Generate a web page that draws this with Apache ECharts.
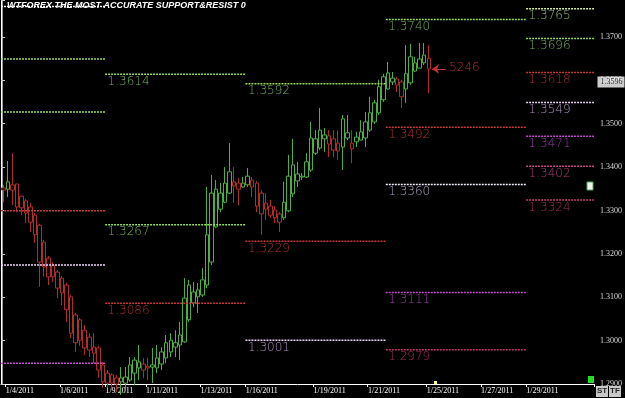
<!DOCTYPE html>
<html><head><meta charset="utf-8">
<script src="https://cdn.jsdelivr.net/npm/echarts/dist/echarts.min.js"></script>
<style>html,body{margin:0;padding:0;background:#000;}#c{width:625px;height:398px;}</style>
</head><body><div id="c"></div>
<script>
// ---- data ----
const slotCount = 131;
const tickIndex = [1, 13, 23, 32, 44, 54, 69, 81, 94, 106, 116];
const tickLabels = ['1/4/2011','1/6/2011','1/9/2011','1/11/2011','1/13/2011','1/16/2011','1/19/2011','1/21/2011','1/25/2011','1/27/2011','1/29/2011'];

const opens = [1.3352,1.3349,1.3359,1.3361,1.3333,1.3322,1.3308,1.3289,1.3266,1.3227,
1.3190,1.3174,1.3158,1.3144,1.3128,1.3101,1.3059,1.3048,1.3024,1.3008,
1.2985,1.2983,1.2944,1.2925,1.2921,1.2914,1.2905,1.2902,1.2909,1.2925,
1.2937,1.2946,1.2941,1.2939,1.2937,1.2946,1.2960,1.2974,1.2985,1.2990,
1.2997,1.3048,1.3087,1.3101,1.3105,1.3128,1.3181,1.3262,1.3303,1.3319,
1.3340,1.3366,1.3363,1.3354,1.3359,1.3370,1.3363,1.3340,1.3317,1.3310,
1.3301,1.3292,1.3283,1.3299,1.3338,1.3368,1.3377,1.3377,1.3393,1.3432,
1.3444,1.3465,1.3472,1.3465,1.3455,1.3446,1.3467,1.3455,1.3458,1.3462,
1.3467,1.3485,1.3504,1.3525,1.3555,1.3580,1.3596,1.3603,1.3596,1.3580,
1.3594,1.3621,1.3628,1.3640,1.3651];
const closes = [1.3347,1.3366,1.3347,1.3308,1.3306,1.3294,1.3273,1.3244,1.3181,1.3170,
1.3147,1.3147,1.3121,1.3110,1.3071,1.3017,1.2995,1.3001,1.2983,1.2978,
1.2971,1.2932,1.2905,1.2902,1.2902,1.2900,1.2914,1.2916,1.2944,1.2955,
1.2951,1.2932,1.2937,1.2944,1.2960,1.2974,1.2995,1.3001,1.2995,1.3013,
1.3098,1.3128,1.3112,1.3117,1.3140,1.3244,1.3340,1.3349,1.3340,1.3363,
1.3389,1.3356,1.3349,1.3363,1.3379,1.3354,1.3310,1.3292,1.3303,1.3289,
1.3283,1.3273,1.3319,1.3379,1.3405,1.3384,1.3379,1.3412,1.3467,1.3465,
1.3485,1.3474,1.3453,1.3439,1.3437,1.3511,1.3479,1.3442,1.3469,1.3481,
1.3504,1.3525,1.3548,1.3585,1.3608,1.3617,1.3605,1.3589,1.3562,1.3615,
1.3654,1.3640,1.3649,1.3658,1.3626];
const lows = [1.3319,1.3331,1.3312,1.3296,1.3289,1.3271,1.3250,1.3225,1.3124,1.3147,
1.3128,1.3135,1.3098,1.3082,1.3043,1.3006,1.2974,1.2988,1.2967,1.2962,
1.2948,1.2914,1.2891,1.2891,1.2886,1.2882,1.2875,1.2886,1.2905,1.2898,
1.2909,1.2914,1.2909,1.2902,1.2925,1.2932,1.2948,1.2962,1.2962,1.2955,
1.2995,1.3043,1.3077,1.3064,1.3101,1.3121,1.3174,1.3260,1.3296,1.3317,
1.3338,1.3317,1.3312,1.3352,1.3354,1.3331,1.3296,1.3244,1.3278,1.3283,
1.3271,1.3250,1.3278,1.3296,1.3331,1.3354,1.3370,1.3375,1.3389,1.3428,
1.3439,1.3435,1.3423,1.3423,1.3416,1.3393,1.3462,1.3409,1.3446,1.3462,
1.3446,1.3481,1.3499,1.3520,1.3550,1.3578,1.3589,1.3573,1.3536,1.3548,
1.3589,1.3619,1.3628,1.3635,1.3571];
const highs = [1.3359,1.3414,1.3432,1.3361,1.3333,1.3326,1.3317,1.3294,1.3269,1.3232,
1.3195,1.3181,1.3163,1.3149,1.3133,1.3105,1.3064,1.3052,1.3036,1.3017,
1.3017,1.2988,1.2951,1.2932,1.2925,1.2921,1.2939,1.2939,1.2962,1.2962,
1.2990,1.2960,1.2960,1.2983,1.2990,1.2985,1.3013,1.3017,1.3024,1.3043,
1.3144,1.3140,1.3135,1.3133,1.3167,1.3354,1.3382,1.3370,1.3363,1.3400,
1.3455,1.3400,1.3375,1.3377,1.3398,1.3377,1.3368,1.3347,1.3340,1.3324,
1.3310,1.3296,1.3366,1.3428,1.3465,1.3412,1.3386,1.3432,1.3504,1.3485,
1.3536,1.3490,1.3485,1.3485,1.3485,1.3520,1.3520,1.3485,1.3481,1.3508,
1.3527,1.3562,1.3555,1.3601,1.3615,1.3642,1.3619,1.3608,1.3601,1.3681,
1.3684,1.3654,1.3686,1.3686,1.3681];

// weekly support/resistance segments (in slot units)
const segStart = [0, 23, 54, 85, 116];
const segEnd   = [23, 54, 85, 116, 131];
const segLevels = [
  [1.3770, 1.3649, 1.3527, 1.3299, 1.3174, 1.2948],
  [1.3614, 1.3267, 1.3086],
  [1.3592, 1.3229, 1.3001],
  [1.3740, 1.3492, 1.3360, 1.3111, 1.2979],
  [1.3765, 1.3696, 1.3618, 1.3549, 1.3471, 1.3402, 1.3324]
];
const segTexts = [
  ['', '', '', '', '', ''],
  ['1.3614', '1.3267', '1.3086'],
  ['1.3592', '1.3229', '1.3001'],
  ['1.3740', '1.3492', '1.3360', '1.3111', '1.2979'],
  ['1.3765', '1.3696', '1.3618', '1.3549', '1.3471', '1.3402', '1.3324']
];
const lastPrice = 1.3596;
const noteText = '5246';
const notePrice = 1.3626;
const noteFrom = 95.2, noteTo = 98.3;

// ---- styles ----
const roleStyle = {
  W:  {line:'#f4f4f4', text:'#e8e8e8'},
  WV: {line:'#f4eefc', text:'#d4c8ee'},
  LG: {line:'#d4f0a8', text:'#b0e094'},
  G:  {line:'#96dc5e', text:'#8cd86c'},
  R:  {line:'#c83a3a', text:'#d23c3c'},
  V:  {line:'#ecd0fa', text:'#d4aee8'},
  M:  {line:'#c24ccc', text:'#c04ed2'},
  P:  {line:'#cc4a8c', text:'#d04a8e'},
  PR: {line:'#c03c6c', text:'#c23c70'}
};
const segRoles = [
  ['W','G','G','R','V','M'],
  ['G','G','R'],
  ['G','R','V'],
  ['G','R','WV','M','PR'],
  ['LG','G','R','V','M','P','PR']
];
const levelFont = '"DejaVu Sans", "Liberation Sans", sans-serif';

// ---- build ----
const categories = [];
for (let i = 0; i < slotCount; i++) {
  const k = tickIndex.indexOf(i);
  categories.push(k >= 0 ? tickLabels[k] : 'c' + i);
}
const candleData = opens.map((o, i) => [o, closes[i], lows[i], highs[i]]);
const showTick = (idx) => tickIndex.indexOf(idx) >= 0;

const series = [{
  type: 'candlestick',
  xAxisIndex: 0,
  data: candleData,
  barWidth: 4,
  clip: false,
  animation: false,
  itemStyle: {color:'#000', color0:'#000', borderColor:'#4cae44', borderColor0:'#b02e2a', borderWidth:1}
}];

const labelPoints = [];
segLevels.forEach((levels, s) => {
  levels.forEach((v, j) => {
    const st = roleStyle[segRoles[s][j]];
    series.push({
      type:'line', xAxisIndex:1, silent:true, animation:false, symbol:'none',
      data:[[segStart[s], v], [segEnd[s], v]],
      lineStyle:{color: st.line, width:1.5, type:[2,1]}
    });
    if (segTexts[s][j]) {
      labelPoints.push({value:[segStart[s], v], label:{formatter: segTexts[s][j], color: st.text}});
    }
  });
});
series.push({
  type:'scatter', xAxisIndex:1, silent:true, animation:false,
  symbolSize:1, itemStyle:{color:'rgba(0,0,0,0)'},
  data: labelPoints,
  label:{show:true, position:[3,2], align:'left', verticalAlign:'top', fontSize:12, fontWeight:200, fontFamily: levelFont}
});
// note arrow + text
series.push({
  type:'scatter', xAxisIndex:1, silent:true, animation:false,
  symbolSize:1, itemStyle:{color:'rgba(0,0,0,0)'},
  data:[{value:[noteTo + 0.6, notePrice]}],
  label:{show:true, formatter: noteText, position:[1,-7], align:'left', verticalAlign:'top', fontSize:12, fontWeight:200, fontFamily: levelFont, color:'#d23c3c'},
  markLine:{silent:true, animation:false, symbol:['arrow','none'], symbolSize:[7,7],
    lineStyle:{color:'#c43030', type:'solid', width:1},
    label:{show:false},
    data:[[{coord:[noteFrom, notePrice]}, {coord:[noteTo, notePrice]}]]}
});
// current price box
series.push({
  type:'scatter', xAxisIndex:1, silent:true, animation:false,
  symbolSize:1, itemStyle:{color:'rgba(0,0,0,0)'},
  data:[[slotCount, lastPrice]],
  label:{show:true, formatter: lastPrice.toFixed(4), position:'right', distance:3,
    backgroundColor:'#ffffff', color:'#000', fontSize:8, fontFamily:'Liberation Sans Narrow', padding:[2,2,1,3]}
});

const chart = echarts.init(document.getElementById('c'), null, {renderer:'canvas'});
chart.setOption({
  backgroundColor:'#000',
  animation:false,
  grid:{left:1, right:31, top:0, bottom:14, containLabel:false},
  xAxis:[{
    type:'category', data:categories, boundaryGap:true,
    axisLine:{show:true, lineStyle:{color:'#ffffff', width:1}},
    axisTick:{show:true, interval:showTick, length:3, lineStyle:{color:'#ffffff'}},
    axisLabel:{show:true, interval:showTick, align:'left', color:'#ffffff', fontSize:8,
      fontFamily:'Liberation Sans Narrow', margin:3, hideOverlap:false, padding:[0,0,0,-2]},
    splitLine:{show:false}
  },{
    type:'value', min:0, max:slotCount, show:false
  }],
  yAxis:{
    type:'value', position:'right', min:1.29, max:1.3785, interval:0.01,
    axisLine:{show:true, lineStyle:{color:'#ffffff', width:1}},
    axisTick:{show:true, length:4, lineStyle:{color:'#cccccc'}},
    axisLabel:{show:true, color:'#d8d8d8', fontSize:8, fontFamily:'Liberation Sans Narrow', margin:6,
      formatter:(v) => Math.abs(v*100 - Math.round(v*100)) < 1e-6 ? v.toFixed(4) : ''},
    splitLine:{show:false}
  },
  graphic:[
    {type:'line', shape:{x1:2.5, y1:0, x2:2.5, y2:384}, style:{stroke:'#9a9a9a', lineWidth:1}, silent:true},
    {type:'text', left:7, top:1, silent:true, style:{text:'WTFOREX THE MOST ACCURATE SUPPORT&RESIST 0', fill:'#ffffff',
      font:'italic bold 9px "Liberation Sans Narrow", sans-serif'}},
    {type:'rect', shape:{x:588, y:376, width:6, height:7}, style:{fill:'#22dd22'}, silent:true},
    {type:'rect', shape:{x:434, y:381, width:3, height:4}, style:{fill:'#ffff88'}, silent:true},
    {type:'rect', shape:{x:587, y:182, width:6, height:8}, style:{fill:'#f0f0f0', stroke:'#55aa55', lineWidth:1}, silent:true},
    {type:'rect', shape:{x:596, y:386, width:12, height:11}, style:{fill:'#c8c8c8'}, silent:true},
    {type:'rect', shape:{x:609, y:386, width:12, height:11}, style:{fill:'#c8c8c8'}, silent:true},
    {type:'text', x:597, y:387, silent:true, style:{text:'ST', fill:'#222', font:'bold 8px "Liberation Sans Narrow", sans-serif'}},
    {type:'text', x:610, y:387, silent:true, style:{text:'TF', fill:'#222', font:'bold 8px "Liberation Sans Narrow", sans-serif'}}
  ],
  series: series
});
</script>
</body></html>
